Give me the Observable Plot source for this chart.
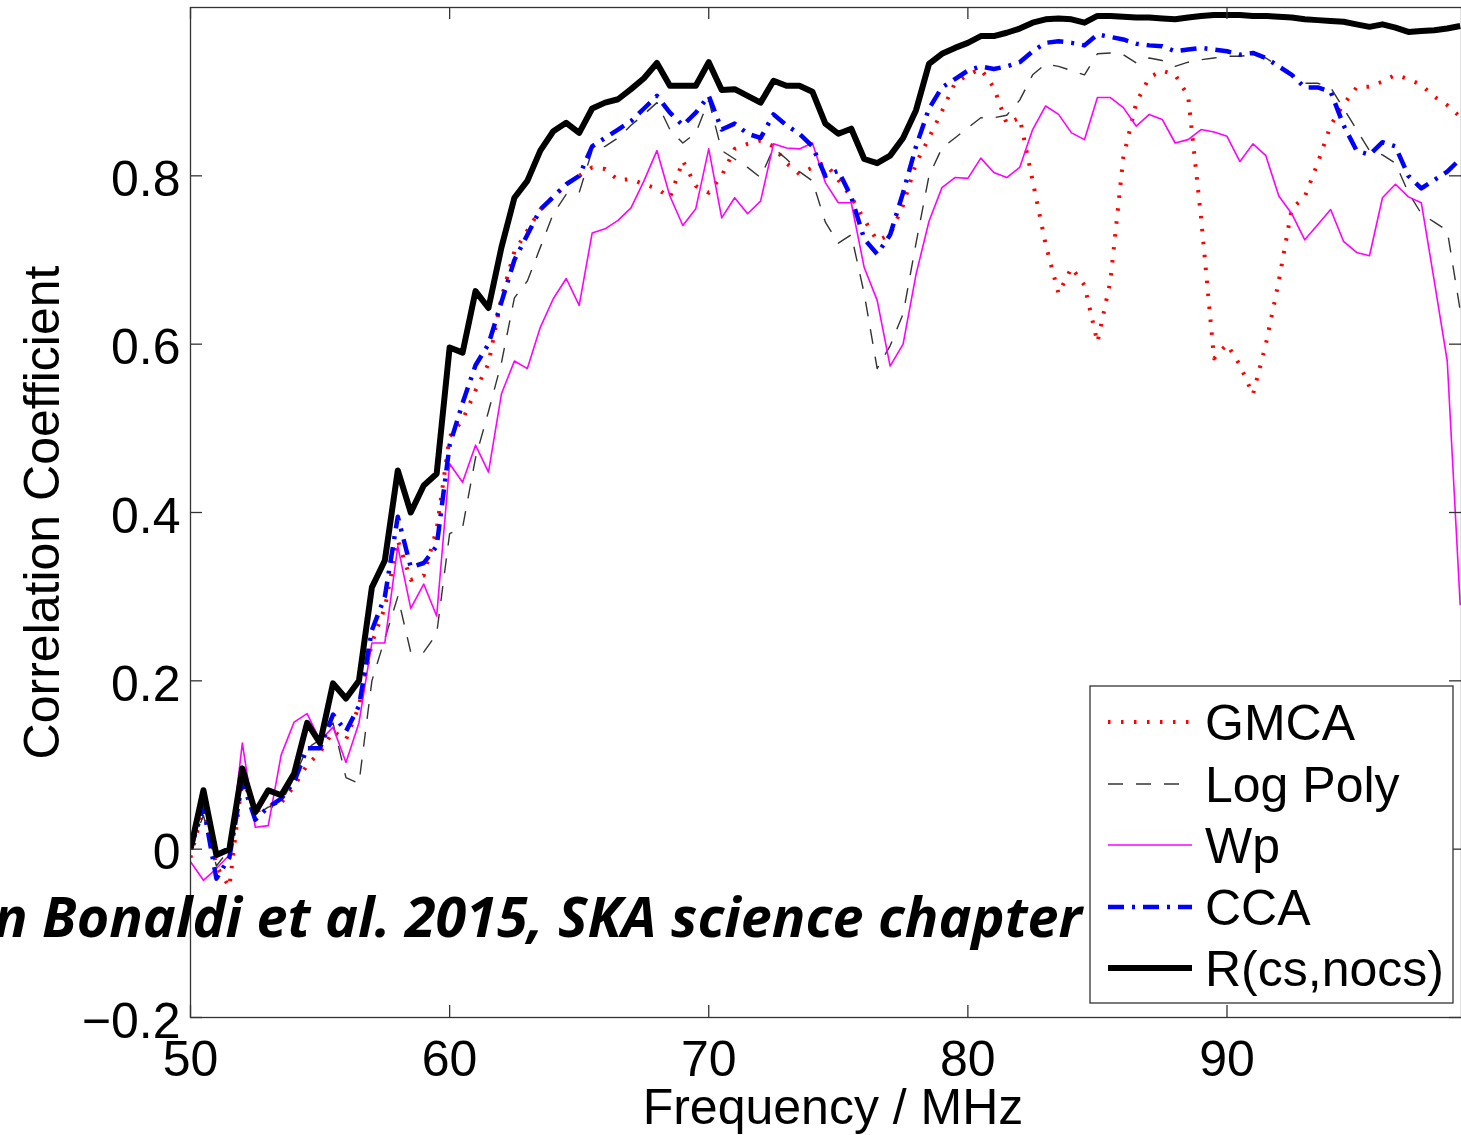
<!DOCTYPE html>
<html><head><meta charset="utf-8">
<script src="https://cdn.jsdelivr.net/npm/d3@7"></script>
<script src="https://cdn.jsdelivr.net/npm/@observablehq/plot@0.6"></script>
<style>
html,body{margin:0;padding:0;background:#fff;overflow:hidden}
#chart{position:relative;width:1461px;height:1135px;overflow:hidden}
</style></head><body><div id="chart"></div>
<script>
const freq = [50,50.5,51,51.5,52,52.5,53,53.5,54,54.5,55,55.5,56,56.5,57,57.5,58,58.5,59,59.5,
60,60.5,61,61.5,62,62.5,63,63.5,64,64.5,65,65.5,66,66.5,67,67.5,68,68.5,69,69.5,
70,70.5,71,71.5,72,72.5,73,73.5,74,74.5,75,75.5,76,76.5,77,77.5,78,78.5,79,79.5,
80,80.5,81,81.5,82,82.5,83,83.5,84,84.5,85,85.5,86,86.5,87,87.5,88,88.5,89,89.5,
90,90.5,91,91.5,92,92.5,93,93.5,94,94.5,95,95.5,96,96.5,97,97.5,98,98.5,99];

const gmca = [-0.01,0.05,-0.02,-0.045,0.085,0.045,0.05,0.055,0.075,0.10,0.115,0.14,0.13,0.17,0.245,0.287,0.367,0.32,0.325,0.38,
0.49,0.51,0.545,0.577,0.655,0.71,0.735,0.76,0.775,0.79,0.80,0.81,0.808,0.795,0.796,0.79,0.785,0.774,0.818,0.788,
0.78,0.80,0.832,0.838,0.842,0.835,0.815,0.802,0.81,0.815,0.795,0.775,0.748,0.723,0.73,0.765,0.815,0.845,0.877,0.91,
0.92,0.927,0.905,0.862,0.869,0.794,0.719,0.66,0.691,0.67,0.602,0.675,0.822,0.887,0.917,0.925,0.92,0.895,0.75,0.583,
0.60,0.575,0.54,0.60,0.675,0.761,0.775,0.815,0.86,0.885,0.905,0.906,0.912,0.92,0.915,0.908,0.894,0.884,0.87];

const logPoly = [0.0,0.04,-0.02,0.0,0.08,0.04,0.05,0.055,0.085,0.12,0.13,0.15,0.085,0.078,0.20,0.25,0.30,0.234,0.234,0.256,
0.375,0.382,0.465,0.52,0.578,0.655,0.675,0.715,0.755,0.778,0.78,0.83,0.835,0.845,0.86,0.873,0.887,0.855,0.839,0.851,
0.89,0.83,0.82,0.81,0.798,0.833,0.82,0.805,0.794,0.745,0.72,0.73,0.66,0.571,0.598,0.636,0.72,0.80,0.833,0.845,
0.857,0.869,0.869,0.872,0.89,0.92,0.933,0.93,0.925,0.92,0.945,0.946,0.944,0.934,0.94,0.937,0.93,0.935,0.938,0.94,
0.942,0.942,0.944,0.94,0.93,0.92,0.91,0.91,0.905,0.88,0.855,0.83,0.825,0.815,0.78,0.755,0.745,0.735,0.64];

const wp = [-0.015,-0.037,-0.023,-0.007,0.126,0.026,0.028,0.112,0.151,0.161,0.129,0.145,0.103,0.15,0.245,0.245,0.36,0.286,0.315,0.277,
0.458,0.436,0.48,0.448,0.541,0.58,0.571,0.62,0.654,0.678,0.646,0.732,0.737,0.747,0.762,0.794,0.83,0.776,0.741,0.761,
0.832,0.75,0.774,0.755,0.77,0.838,0.833,0.832,0.839,0.792,0.768,0.768,0.691,0.652,0.574,0.60,0.683,0.746,0.786,0.798,
0.797,0.821,0.804,0.798,0.81,0.855,0.883,0.873,0.851,0.843,0.893,0.893,0.881,0.859,0.873,0.867,0.839,0.843,0.855,0.852,
0.847,0.817,0.838,0.824,0.776,0.755,0.724,0.742,0.76,0.722,0.709,0.705,0.774,0.79,0.775,0.768,0.675,0.58,0.29];

const cca = [0.0,0.05,-0.035,-0.01,0.08,0.035,0.05,0.06,0.08,0.12,0.12,0.16,0.14,0.17,0.26,0.30,0.395,0.335,0.34,0.36,
0.48,0.53,0.575,0.60,0.65,0.70,0.73,0.76,0.775,0.79,0.80,0.835,0.845,0.855,0.865,0.88,0.895,0.875,0.86,0.875,
0.895,0.855,0.862,0.85,0.845,0.873,0.86,0.85,0.835,0.80,0.806,0.775,0.725,0.707,0.73,0.78,0.835,0.88,0.905,0.915,
0.925,0.93,0.927,0.93,0.935,0.948,0.958,0.96,0.958,0.955,0.968,0.965,0.962,0.957,0.955,0.954,0.948,0.95,0.952,0.95,
0.948,0.944,0.946,0.94,0.93,0.92,0.905,0.905,0.90,0.86,0.83,0.825,0.84,0.835,0.80,0.785,0.795,0.805,0.82];

const rcs = [0.0,0.07,-0.007,0.0,0.096,0.044,0.07,0.064,0.09,0.15,0.126,0.197,0.179,0.20,0.311,0.343,0.45,0.40,0.432,0.446,
0.596,0.59,0.663,0.643,0.715,0.774,0.794,0.83,0.853,0.863,0.851,0.88,0.887,0.891,0.903,0.916,0.934,0.907,0.907,0.907,
0.935,0.902,0.903,0.895,0.887,0.913,0.907,0.907,0.90,0.862,0.85,0.856,0.82,0.815,0.824,0.845,0.878,0.933,0.945,0.952,
0.958,0.966,0.966,0.97,0.975,0.982,0.986,0.987,0.986,0.982,0.99,0.99,0.989,0.988,0.988,0.987,0.986,0.988,0.99,0.991,
0.991,0.991,0.99,0.99,0.989,0.988,0.986,0.985,0.984,0.983,0.98,0.977,0.98,0.976,0.971,0.972,0.973,0.975,0.978];

const seriesNames = ["GMCA", "Log Poly", "Wp", "CCA", "R(cs,nocs)"];
const seriesValues = [gmca, logPoly, wp, cca, rcs];
const xTicks = [50, 60, 70, 80, 90];
const yTicks = [-0.2, 0, 0.2, 0.4, 0.6, 0.8];
const xLabel = "Frequency / MHz";
const yLabel = "Correlation Coefficient";
const note = "n Bonaldi et al. 2015, SKA science chapter";

const styles = {
  "GMCA":       {stroke: "#ff0000", strokeWidth: 4,   strokeDasharray: "2.5,10.5"},
  "Log Poly":   {stroke: "#333333", strokeWidth: 1.4, strokeDasharray: "15,13"},
  "Wp":         {stroke: "#ff00ff", strokeWidth: 1.6, strokeDasharray: null},
  "CCA":        {stroke: "#0000ff", strokeWidth: 4.5, strokeDasharray: "16,8,3,8"},
  "R(cs,nocs)": {stroke: "#000000", strokeWidth: 6,   strokeDasharray: null}
};

const W = 1461, H = 1135, mL = 190, mR = 0, mT = 7, mB = 118;
const frameW = W - mL - mR, frameH = H - mT - mB, tick = 12;
const FONT = "'Liberation Sans', Arial, Helvetica, sans-serif";
const fmt = d => d < 0 ? "\u2212" + Math.abs(d) : String(d);

const lineMarks = seriesNames.map((name, i) => {
  const rows = freq.map((f, j) => ({f, r: seriesValues[i][j]}));
  const s = styles[name];
  const opts = {x: "f", y: "r", stroke: s.stroke, strokeWidth: s.strokeWidth, strokeLinejoin: "round", strokeLinecap: "butt", clip: true};
  if (s.strokeDasharray) opts.strokeDasharray = s.strokeDasharray;
  return Plot.line(rows, opts);
});

const plot = Plot.plot({
  width: W, height: H,
  marginLeft: mL, marginRight: mR, marginTop: mT, marginBottom: mB,
  style: {fontFamily: FONT, fontSize: "50px", color: "#000", background: "#fff"},
  x: {domain: [50, 99.05]},
  y: {domain: [-0.2, 1.0]},
  marks: [
    ...lineMarks,
    Plot.ruleX(xTicks, {stroke: "#333", strokeWidth: 1.3, insetTop: frameH - tick}),
    Plot.ruleX(xTicks, {stroke: "#333", strokeWidth: 1.3, insetBottom: frameH - tick}),
    Plot.ruleY(yTicks, {stroke: "#333", strokeWidth: 1.3, insetRight: frameW - tick}),
    Plot.ruleY(yTicks, {stroke: "#333", strokeWidth: 1.3, insetLeft: frameW - tick}),
    Plot.frame({stroke: "#333", strokeWidth: 1.3}),
    Plot.axisX(xTicks, {tickSize: 0, tickPadding: 23, fontSize: 50, label: null, tickFormat: fmt}),
    Plot.axisY(yTicks, {tickSize: 0, tickPadding: 10, fontSize: 50, label: null, tickFormat: fmt, dy: 4}),
    Plot.text([xLabel], {frameAnchor: "bottom", lineAnchor: "middle", textAnchor: "middle", dy: 90, dx: 7, fontSize: 50, text: d => d}),
    Plot.text([yLabel], {frameAnchor: "left", lineAnchor: "middle", textAnchor: "middle", dx: -148, rotate: -90, fontSize: 50, text: d => d})
  ]
});
document.getElementById("chart").appendChild(plot);

// legend and annotation
const svg = d3.select(plot);
const lg = svg.append("g").attr("font-family", FONT).attr("font-size", 50).attr("text-anchor", "start");
lg.append("rect").attr("x", 1090).attr("y", 686).attr("width", 363).attr("height", 317)
  .attr("fill", "#fff").attr("stroke", "#333").attr("stroke-width", 1.3);
const rowY = [722, 784, 845, 907, 968];
seriesNames.forEach((name, i) => {
  const s = styles[name];
  lg.append("line").attr("x1", 1108).attr("x2", 1192).attr("y1", rowY[i]).attr("y2", rowY[i])
    .attr("stroke", s.stroke).attr("stroke-width", s.strokeWidth)
    .attr("stroke-dasharray", s.strokeDasharray);
  lg.append("text").attr("x", 1205).attr("y", rowY[i] + 18).attr("fill", "#000").attr("text-anchor", "start").text(name);
});
svg.append("text").attr("x", -6).attr("y", 937).attr("text-anchor", "start")
  .attr("font-family", "'Open Sans', 'Noto Sans', sans-serif").attr("font-weight", "bold").attr("font-style", "italic")
  .attr("font-size", 56).attr("textLength", 1088).attr("lengthAdjust", "spacingAndGlyphs")
  .attr("fill", "#000").text(note);
</script>
</body></html>
